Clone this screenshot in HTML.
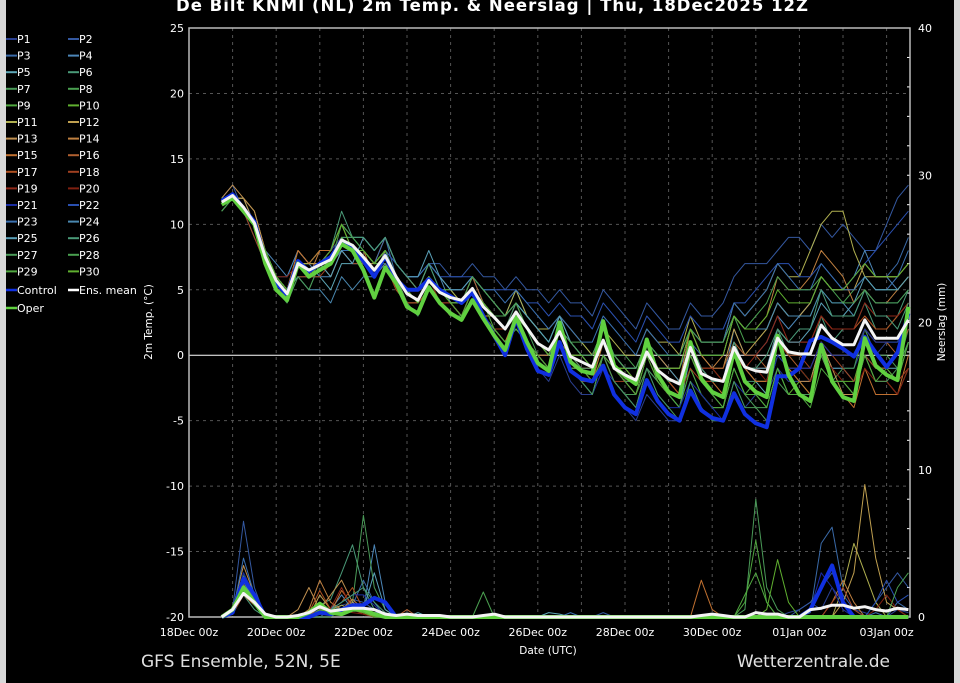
<!DOCTYPE html>
<html><head><meta charset="utf-8"><style>
html,body{margin:0;padding:0;background:#000;}
svg{display:block;font-family:"DejaVu Sans","Liberation Sans",sans-serif;}
</style></head><body>
<svg id="chart" width="960" height="683" viewBox="0 0 960 683" xmlns="http://www.w3.org/2000/svg">
<rect x="0" y="0" width="960" height="683" fill="#000"/>
<rect x="0" y="0" width="6" height="683" fill="#d8d8d8"/>
<rect x="954" y="0" width="6" height="683" fill="#d8d8d8"/>
<text x="492" y="11" fill="#fff" font-size="16.5" font-weight="bold" text-anchor="middle" textLength="632">De Bilt KNMI  (NL)  2m Temp. &amp; Neerslag | Thu, 18Dec2025 12Z</text>
<g id="grid"></g>
<g id="axes"></g>
<g id="series"></g>
<g id="legend"></g>
<text x="152" y="322" fill="#fff" font-size="10.5" text-anchor="middle" transform="rotate(-90 152 322)">2m Temp. (°C)</text>
<text x="945" y="322" fill="#fff" font-size="10.5" text-anchor="middle" transform="rotate(-90 945 322)">Neerslag (mm)</text>
<text x="548" y="654" fill="#fff" font-size="10.5" text-anchor="middle">Date (UTC)</text>
<text x="141" y="667" fill="#e0e0e0" font-size="17">GFS Ensemble, 52N, 5E</text>
<text x="890" y="667" fill="#e0e0e0" font-size="17" text-anchor="end">Wetterzentrale.de</text>
</svg>
<script>
const xTickLabels=["18Dec 00z","20Dec 00z","22Dec 00z","24Dec 00z","26Dec 00z","28Dec 00z","30Dec 00z","01Jan 00z","03Jan 00z"];
const yTicks=[25,20,15,10,5,0,-5,-10,-15,-20];
const y2Ticks=[40,30,20,10,0];
const startDay=0.75;
const stepDay=0.25;
const ensMean=[11.7,12.2,11.3,10.1,7.5,5.7,4.7,7.0,6.5,6.9,7.3,8.8,8.4,7.5,6.5,7.6,6.0,4.7,4.2,5.7,4.8,4.4,4.2,5.1,3.7,2.9,2.0,3.3,2.1,0.9,0.4,1.8,-0.1,-0.5,-0.9,1.15,-1.0,-1.5,-1.9,0.25,-1.15,-1.8,-2.2,0.6,-1.4,-1.8,-2.0,0.6,-0.9,-1.2,-1.3,1.3,0.25,0.1,0.1,2.3,1.3,0.8,0.8,2.7,1.3,1.3,1.3,2.7];
const operTemp=[11.5,12.0,11.0,10.0,7.0,5.0,4.2,7.0,6.0,6.5,7.0,8.5,8.0,6.5,4.4,6.7,5.5,3.7,3.2,5.2,4.0,3.2,2.7,4.2,2.8,1.5,0.4,2.9,1.0,-0.6,-1.2,2.5,-0.5,-1.2,-1.4,2.6,-0.8,-1.6,-2.2,1.2,-1.5,-2.8,-3.2,1.0,-1.8,-2.8,-3.2,0.3,-2.0,-2.8,-3.2,1.5,-1.5,-3.0,-3.5,0.8,-2.0,-3.2,-3.5,1.3,-0.8,-1.5,-1.9,3.7];
const controlTemp=[11.8,12.3,11.2,10.2,7.3,5.5,4.6,7.2,6.4,7.0,7.5,8.7,8.2,7.2,6.0,7.6,5.8,5.0,5.0,5.8,5.0,4.5,4.0,4.8,3.0,1.5,0.0,2.8,0.5,-1.2,-1.5,1.0,-1.2,-1.8,-2.0,-0.8,-3.0,-4.0,-4.5,-1.9,-3.5,-4.5,-5.0,-2.7,-4.2,-4.8,-5.0,-2.9,-4.5,-5.2,-5.5,-1.6,-1.6,-1.0,1.1,1.4,1.0,0.5,-0.1,1.4,0.2,-0.9,0.2,3.2];
const memberTemp=[
[12,12,11,10,8,6,5,7,6,7,7,9,8,8,7,8,6,4,3,5,4,3,3,4,3,2,1,2,1,-1,-2,0,-2,-3,-3,-1,-3,-4,-5,-3,-4,-5,-5,-2,-4,-5,-5,-2,-4,-3,-3,-1,-2,-2,-2,0,-1,-1,-1,1,0,1,1,3],
[12,13,11,10,7,5,5,7,7,8,8,10,9,9,8,9,7,6,6,7,7,6,6,7,6,6,5,6,5,5,4,5,4,4,3,5,4,3,2,4,3,2,2,4,3,3,4,6,7,7,7,8,9,9,8,10,9,10,9,8,8,10,12,13],
[12,12,12,10,7,6,6,8,7,8,8,10,9,9,8,9,6,5,5,6,5,5,5,6,4,3,3,4,3,2,1,3,1,0,0,2,0,-1,-2,1,0,-1,-1,1,0,0,0,3,2,2,2,4,3,3,4,6,5,5,6,7,6,6,7,9],
[11,12,11,10,8,7,6,8,7,6,6,8,7,7,6,8,7,6,5,7,6,4,4,6,5,4,3,5,3,2,1,3,1,0,0,2,0,-1,-1,1,0,-1,-2,1,-1,-2,-2,2,0,0,1,3,2,3,4,6,5,5,6,8,6,6,5,6],
[12,12,11,9,7,6,5,6,6,6,5,7,7,7,6,8,6,5,4,5,4,4,3,5,3,3,2,3,1,0,-1,1,-1,-2,-3,0,-2,-3,-4,-1,-2,-3,-4,0,-2,-3,-3,1,-1,-2,-3,0,-1,-1,-2,1,-1,-1,-2,0,-1,-1,-1,1],
[12,12,11,10,8,6,5,7,7,8,8,11,9,8,7,8,6,5,5,7,5,4,4,6,4,3,2,4,2,1,0,2,0,0,-1,2,0,-1,-2,1,-1,-2,-3,0,-2,-3,-3,0,-2,-2,-2,2,0,0,0,3,1,2,2,4,2,2,3,5],
[11,12,11,10,8,5,4,6,5,7,7,9,8,8,7,8,6,5,4,6,5,4,3,5,4,3,2,3,2,0,-1,1,-1,-2,-2,0,-2,-3,-3,-1,-2,-3,-4,-1,-3,-4,-4,-1,-3,-4,-5,-2,-3,-3,-3,0,-2,-1,-1,2,0,0,-1,2],
[12,12,11,10,8,6,5,7,6,7,7,9,9,9,8,9,7,6,5,6,5,4,4,5,4,3,3,4,3,2,1,3,1,1,0,2,0,0,-1,1,-1,-1,-1,2,0,0,0,3,1,1,2,4,3,3,3,5,4,4,5,6,5,5,5,6],
[12,12,11,10,7,5,4,7,6,7,8,10,9,8,7,7,5,4,4,5,4,3,3,5,3,2,1,2,1,0,-1,1,-1,-1,-2,0,-1,-2,-3,0,-2,-3,-4,-1,-3,-4,-4,-1,-3,-2,-2,1,-1,-1,-2,1,0,0,0,2,1,1,1,3],
[11,12,11,10,8,6,5,7,7,8,8,10,8,8,7,8,6,5,4,6,5,5,4,5,4,3,2,3,2,1,0,2,0,-1,-2,1,-1,-2,-3,0,-2,-3,-3,0,-2,-3,-4,0,-2,-3,-4,-1,-3,-2,-3,0,-2,-2,-2,1,-1,-1,-2,1],
[12,12,12,11,8,6,5,7,7,7,7,9,8,7,6,8,6,5,5,7,6,5,4,6,5,4,3,5,3,2,2,3,2,1,0,2,1,0,0,2,1,1,0,3,1,1,1,4,3,4,5,7,6,6,8,10,11,11,8,6,6,6,6,7],
[12,12,12,10,8,6,5,8,7,7,8,10,8,7,7,8,6,4,4,6,5,4,3,5,3,2,2,3,2,1,0,2,0,0,-1,1,-1,-1,-2,1,-1,-2,-2,1,-1,-1,-1,2,0,1,2,4,3,3,4,6,5,5,5,7,6,6,6,7],
[12,13,12,11,8,6,5,7,6,7,6,8,8,8,7,8,6,5,4,6,4,4,3,5,3,3,2,3,1,0,-1,1,-1,-1,-1,1,0,-1,-1,1,0,-1,-1,2,0,-1,-2,1,-1,-2,-2,1,-1,-2,-2,1,-1,-3,-3,0,-2,-2,-3,-1],
[12,12,11,10,8,6,5,7,6,8,8,9,8,8,7,8,6,5,4,6,4,3,3,4,3,2,1,3,1,0,0,2,0,-1,-1,1,-1,-2,-2,1,-1,-2,-2,2,0,-1,0,3,2,2,3,6,5,5,6,8,7,6,4,5,4,4,5,6],
[12,12,11,10,8,6,5,8,7,8,8,9,8,8,6,7,5,4,4,5,4,3,3,4,3,2,1,3,1,0,-1,1,0,-1,-2,1,-1,-2,-2,1,-1,-2,-3,1,-1,-2,-3,0,-1,-2,-2,1,-1,-2,-3,0,-2,-3,-4,-1,-3,-3,-3,0],
[12,12,11,10,8,6,5,7,6,7,7,8,8,8,7,9,7,6,5,6,5,4,4,6,4,3,2,3,2,1,0,2,1,0,0,1,0,-1,-1,1,-1,-2,-2,1,-1,-1,-1,1,0,0,-1,1,0,-1,-1,1,0,0,0,2,1,1,0,2],
[12,12,11,10,7,5,5,7,6,7,8,9,8,8,7,9,7,6,5,6,5,4,4,5,4,3,2,4,2,1,0,2,0,-1,-1,1,-1,-2,-2,0,-1,-2,-3,0,-2,-2,-2,1,-1,-1,-1,2,1,1,1,3,2,2,2,3,2,2,3,4],
[12,12,11,9,7,5,5,6,6,6,7,8,7,7,6,7,5,4,4,5,4,4,3,5,3,2,2,3,1,0,-1,1,-1,-2,-2,0,-2,-2,-3,0,-2,-3,-3,-1,-2,-2,-2,0,-1,-1,-1,1,0,0,-1,1,0,-1,-2,0,-1,-1,-2,-1],
[12,12,11,10,8,6,5,7,6,7,7,9,8,8,7,8,6,5,4,6,5,4,4,5,4,3,2,3,2,1,0,2,0,-1,-1,1,-1,-2,-2,0,-1,-2,-2,1,-1,-2,-2,1,-1,0,1,3,1,1,1,3,2,2,2,4,3,3,3,4],
[12,12,11,10,8,6,6,7,6,7,7,9,8,8,7,8,6,5,4,6,4,4,3,5,4,3,2,3,1,0,-1,1,-1,-1,-2,0,-1,-2,-2,0,-1,-1,-2,1,-1,-1,-2,0,-1,-1,-2,1,-1,-1,-2,0,-1,-2,-3,-1,-2,-2,-3,-1],
[12,12,11,10,8,6,5,7,6,7,8,9,8,8,7,8,6,5,4,6,5,4,4,5,4,3,2,3,2,1,0,1,-1,-2,-3,-1,-2,-3,-4,-1,-3,-4,-4,-2,-3,-4,-5,-2,-3,-3,-3,0,-1,-1,-1,1,0,0,0,2,1,1,1,3],
[12,12,11,10,8,6,5,7,6,7,7,9,8,8,7,8,7,6,6,7,6,6,6,6,5,5,5,5,4,4,3,4,3,3,2,4,3,2,1,3,2,1,1,3,2,2,2,4,4,5,6,7,7,6,6,7,6,5,6,7,8,9,10,11],
[12,12,11,10,8,6,5,7,6,7,7,8,8,8,7,9,7,6,6,7,6,5,5,6,5,5,4,5,4,3,2,3,2,1,1,3,2,1,0,2,1,0,0,2,1,1,1,4,3,4,5,7,6,5,5,7,6,5,5,6,5,5,6,8],
[12,12,11,10,8,6,5,6,5,5,4,6,5,6,6,7,6,5,5,6,5,4,4,5,4,3,2,3,2,1,0,2,1,0,0,2,0,-1,-1,1,0,0,0,2,1,1,1,3,2,2,2,4,3,3,3,5,4,4,3,5,4,4,4,5],
[12,12,11,10,8,6,5,7,6,7,6,8,7,9,8,9,7,6,6,8,6,5,5,6,5,4,3,4,3,2,1,3,1,0,-1,1,0,-1,-1,1,-1,-1,-2,1,-1,-2,-2,1,-1,-1,-1,2,1,1,2,4,3,3,4,6,5,5,5,6],
[12,12,11,10,8,6,5,7,6,7,7,9,9,9,8,9,7,6,5,7,5,4,4,5,4,3,2,4,2,1,0,2,0,-1,-1,1,-1,-2,-2,0,-1,-2,-2,1,-1,-2,-2,1,-1,-1,0,2,1,2,2,5,3,3,3,5,3,3,2,4],
[11,12,11,10,7,5,4,6,5,7,7,9,8,8,7,8,6,4,3,5,4,3,3,4,3,2,1,2,1,0,-1,1,-1,-2,-3,0,-2,-3,-4,-1,-3,-4,-5,-2,-4,-5,-5,-2,-4,-4,-4,-1,-3,-3,-3,0,-2,-2,-3,0,-2,-2,-1,1],
[12,12,11,10,8,6,5,7,6,7,7,10,9,8,7,8,6,5,4,6,5,4,4,6,5,4,3,4,2,1,0,2,1,0,0,2,0,-1,-1,1,0,0,0,2,1,1,1,3,2,3,4,6,5,5,5,6,5,4,4,5,4,4,4,5],
[12,12,11,10,8,6,5,7,6,7,7,9,8,8,7,8,6,5,4,6,5,4,3,5,4,2,1,2,1,0,-1,1,-1,-1,-2,0,-1,-2,-3,0,-2,-3,-3,0,-2,-3,-4,-1,-3,-3,-4,-1,-3,-3,-4,-1,-2,-2,-3,0,-2,-1,-2,1],
[12,12,11,10,8,6,5,7,6,7,8,10,8,8,7,8,6,5,4,6,5,4,4,5,4,3,2,3,2,1,0,2,0,0,-1,1,-1,-1,-2,1,-1,-1,-1,2,0,0,0,3,2,2,3,5,4,4,4,6,5,5,6,7,6,6,6,7]
];
const memberColors=["#2a3f8f","#3458a0","#3a6aa8","#4c86b8","#5ea8b8","#4a9a78","#4a9a58","#4aa050","#50a840","#60b030","#b0b050","#c0a050","#c09050","#c08040","#c07030","#b06030","#b05020","#a04020","#902818","#802010","#1a2ca0","#2a50b0","#3a70b0","#4a88b0","#5aa0b8","#4a9a78","#4a9a58","#4aa050","#50a840","#60b030"];
const meanPrecip=[0,0.5,1.6,1.0,0.2,0,0,0.1,0.3,0.7,0.4,0.5,0.6,0.6,0.5,0.2,0.1,0.2,0.1,0.1,0.1,0,0,0,0.1,0.2,0,0,0,0,0,0,0,0,0,0,0,0,0,0,0,0,0,0,0.1,0.2,0.1,0,0,0.3,0.2,0.2,0,0,0.5,0.6,0.8,0.8,0.6,0.7,0.5,0.4,0.6,0.5];
const operPrecip=[0,0.5,2.0,1.0,0,0,0,0,0.3,0.9,0.3,0.2,0.5,0.5,0.2,0,0,0,0,0,0,0,0,0,0,0,0,0,0,0,0,0,0,0,0,0,0,0,0,0,0,0,0,0,0,0,0,0,0,0,0,0,0,0,0,0,0,0,0,0,0,0,0,0];
const controlPrecip=[0,0.3,2.6,1.5,0,0,0,0,0,0.3,0.2,0.5,0.8,0.8,1.3,1.0,0,0,0,0,0,0,0,0,0,0,0,0,0,0,0,0,0,0,0,0,0,0,0,0,0,0,0,0,0,0,0,0,0,0,0,0,0,0,0.5,2.0,3.5,1.0,0,0,0,0,0,0];
const memberPrecip=[
[0,0.3,3,1.5,0.2,0,0,0,0.2,0.5,0.3,0.8,1,0.5,0.2,0,0,0,0,0,0,0,0,0,0,0,0,0,0,0,0,0,0,0,0,0,0,0,0,0,0,0,0,0,0,0,0,0,0,0,0,0,0.3,0.5,1,0.5,2,1,0.5,0.3,0,0,0.5,0.3],
[0,0.5,6.5,2,0,0,0,0,0,0.3,0.5,0.5,1.2,1,0.5,0,0,0,0,0,0,0,0,0,0,0,0,0,0,0,0,0,0,0,0,0.3,0,0,0,0,0,0,0,0,0,0,0,0,0,0,0,0,0,0.5,1,2,3,1.5,0.5,0,1,2,3,2],
[0,0.2,1.5,1,0,0,0,0,0,0,0.5,0.3,0.8,2.5,1,0,0,0,0,0,0,0,0,0,0,0,0,0,0,0,0,0,0,0,0,0,0,0,0,0,0,0,0,0,0,0,0,0,0,0,0,0,0,0,0.3,5.0,6.1,2,0.5,0,0.3,0,1,0.5],
[0,0.5,2,1,0,0,0,0,0,0.5,0.5,1.5,0.5,0.5,4.9,1,0,0,0,0,0,0,0,0,0,0,0,0,0,0,0,0,0,0,0,0,0,0,0,0,0,0,0,0,0,0,0,0,0,0,0,0,0,0,0,0,0,0,0,0,0,0,0,0],
[0,0.3,2.5,1.2,0,0,0,0,0.3,0.2,0.3,0.6,0.8,0.5,0.3,0,0,0,0.3,0,0,0,0,0,0,0,0,0,0,0,0.3,0.2,0,0,0,0,0,0,0,0,0,0,0,0,0,0,0,0,0,0,0,0,0,0,0,0,0,0,0,0,0,0,0,0],
[0,0.2,1.5,0.5,0,0,0,0,0,0.8,1.2,3.0,4.9,2,0.5,0,0,0,0,0,0,0,0,0,0,0,0,0,0,0,0,0,0,0,0,0,0,0,0,0,0,0,0,0,0,0,0,0,0,0,0,0,0,0,0,0,0,0,0,0,0,0,0,0],
[0,0.4,2.2,1.0,0,0,0,0,0,0,0,0.5,1,6.9,2,0.5,0,0,0,0,0,0,0,0,0,0,0,0,0,0,0,0,0,0,0,0,0,0,0,0,0,0,0,0,0,0,0,0,0.5,8,2,0.5,0,0,0,0,0,0,0,0,0,0,0,0],
[0,0.2,2,0.8,0,0,0,0,0,0.3,0.3,0.5,0.5,0.3,0.2,0,0,0,0,0,0,0,0,0,1.7,0,0,0,0,0,0,0,0,0,0,0,0,0,0,0,0,0,0,0,0,0,0,0,0,0,0,0,0,0,0,0,0,0,0,0,0,0,0,0],
[0,0.3,2.8,1.5,0,0,0,0,0,0.5,0.2,0.2,0.5,0.3,0.1,0,0,0,0,0,0,0,0,0,0,0,0,0,0,0,0,0,0,0,0,0,0,0,0,0,0,0,0,0,0,0,0,0,1,5.2,1,0,0,0,0,0,0,0,0,0,0,0,0,0],
[0,0.2,2,1,0,0,0,0,0,0.2,0.3,0.4,0.6,0.5,0.2,0,0,0,0,0,0,0,0,0,0,0,0,0,0,0,0,0,0,0,0,0,0,0,0,0,0,0,0,0,0,0,0,0,0,0,0.5,3.9,1,0,0,0,0,0,0,0,0,0,0,0],
[0,0.3,1.8,1.2,0,0,0,0,0,0.5,0.5,0.8,0.5,0.3,0.2,0,0,0,0,0,0,0,0,0,0,0,0,0,0,0,0,0,0,0,0,0,0,0,0,0,0,0,0,0,0,0,0,0,0,0,0,0,0,0,0,0,0,2,5,3,1,0,0,0],
[0,0.2,2.5,1,0,0,0,0,0,1.5,0.5,0.5,0.5,0.3,0,0,0,0,0,0,0,0,0,0,0,0,0,0,0,0,0,0,0,0,0,0,0,0,0,0,0,0,0,0,0,0,0,0,0,0,0,0,0,0,0,0,0,1,3,9,4,1,0.5,0],
[0,0.5,3.5,1.5,0,0,0,0.5,2.0,0.5,1.5,2.5,1,0.5,0.2,0,0,0,0,0,0,0,0,0,0,0,0,0,0,0,0,0,0,0,0,0,0,0,0,0,0,0,0,0,0,0,0,0,0,0,0,0,0,0,0,0,0,0,0,0,0,0,0,0],
[0,0.2,1.5,0.8,0,0,0,0,0.5,2.5,1,0.5,1.2,0.5,0.3,0,0,0,0,0,0,0,0,0,0,0,0,0,0,0,0,0,0,0,0,0,0,0,0,0,0,0,0,0,0,0,0,0,0,0,0,0,0,0,0,0,1,2.5,1,0,0,0,0,0],
[0,0.4,2.2,1,0,0,0,0,0,0.8,0.3,1.8,0.8,0.5,0,0,0,0,0,0,0,0,0,0,0,0,0,0,0,0,0,0,0,0,0,0,0,0,0,0,0,0,0,0,2.5,0.5,0,0,0,0,0,0,0,0,0,0,0,0,0,0,0,0,0,0],
[0,0.2,2,1,0,0,0,0,0,0.5,0.4,0.6,0.5,0.3,0.2,0,0,0.5,0,0,0,0,0,0,0,0,0,0,0,0,0,0,0,0,0,0,0,0,0,0,0,0,0,0,0,0,0,0,0,0,0,0,0,0,0,0,0,0,0,0,0,0,0,0],
[0,0.3,2.5,1.5,0,0,0,0,0.3,1.8,0.5,1.0,2.0,0.5,0.2,0,0,0,0,0,0,0,0,0,0,0,0,0,0,0,0,0,0,0,0,0,0,0,0,0,0,0,0,0,0,0,0,0,0,0,0,0,0,0,0,0,0,0,0,0,0,0,0,0],
[0,0.2,1.5,1.0,0,0,0,0,0,0.5,0.3,0.4,0.5,0.2,0,0,0,0,0,0,0,0,0,0,0,0,0,0,0,0,0,0,0,0,0,0,0,0,0,0,0,0,0,0,0,0,0,0,0,0,0,0,0,0,0,0,1,2,0.5,0,0,0,0,0],
[0,0.3,1.8,1.0,0,0,0,0,0,0.4,0.6,2.0,0.5,0.3,0.2,0,0,0,0,0,0,0,0,0,0,0,0,0,0,0,0,0,0,0,0,0,0,0,0,0,0,0,0,0,0,0,0,0,0,0,0,0,0,0,0,0,0,0,0,0,0,0,0,0],
[0,0.2,2,1,0,0,0,0,0,0.5,0.3,0.5,0.3,0.2,0,0,0,0,0,0,0,0,0,0,0,0,0,0,0,0,0,0,0,0,0,0,0,0,0,0,0,0,0,0,0,0,0,0,0,0,0,0,0,0,0,0,0,0,0,0,0.5,1.5,0.5,0],
[0,0.4,3.0,1.2,0,0,0,0,0,0.3,0.5,1.0,1.5,1.5,0.8,0,0,0,0,0,0,0,0,0,0,0,0,0,0,0,0,0,0,0,0,0,0,0,0,0,0,0,0,0,0,0,0,0,0,0,0,0,0,0,0.5,3.0,2.0,0.5,0,0,0,0,0,0],
[0,0.2,2.0,1.0,0,0,0,0,0,0.2,0.3,0.5,0.8,0.5,0.2,0,0,0,0,0,0,0,0,0,0,0,0,0,0,0,0,0,0,0,0,0,0,0,0,0,0,0,0,0,0,0,0,0,0,0,0,0,0,0,0,0,0,0,0,0,1,2.5,1.0,1.5],
[0,0.3,4.0,1.5,0,0,0,0,0,0.3,0.5,0.5,0.6,0.4,0.2,0,0,0,0,0,0,0,0,0,0,0,0,0,0,0,0,0,0.3,0,0,0,0,0,0,0,0,0,0,0,0,0,0,0,0,0,0,0,0,0,0,0,0,0,0,0,0,0,0,0],
[0,0.2,2.4,1.0,0,0,0,0,0,0.5,0.4,0.3,0.5,0.5,0.3,0.3,0,0,0,0,0,0,0,0,0,0,0,0,0,0,0,0,0,0,0,0,0,0,0,0,0,0,0,0,0,0,0,0,0,0,0,0,0,0,0,0,0,0,0,0,0,0,0,0],
[0,0.2,1.8,1.0,0,0,0,0,0,0.3,0.3,0.5,0.5,0.5,3.0,0.5,0,0,0,0,0,0,0,0,0,0,0,0,0,0,0,0,0,0,0,0,0,0,0,0,0,0,0,0,0,0,0,0,0,0,0,0,0,0,0,0,0,0,0,0,0,0,0,0],
[0,0.3,2.0,0.8,0,0,0,0,0,0.4,0.5,1.0,1.5,2.0,1.0,0.3,0,0,0,0,0,0,0,0,0,0,0,0,0,0,0,0,0,0,0,0,0,0,0,0,0,0,0,0,0,0,0,0,0,0,0,0,0,0,0,0,0,0,0,0,0,0,0,0],
[0,0.2,2.5,1.2,0,0,0,0,0,0.3,0.3,0.5,0.8,0.5,0.3,0,0,0,0,0,0,0,0,0,0,0,0,0,0,0,0,0,0,0,0,0,0,0,0,0,0,0,0,0,0,0,0,0,0,0,0,0,0,0,0,0,0,0,0,0,0,0,0,0],
[0,0.3,2.0,1.0,0,0,0,0,0,0.5,0.5,0.6,0.5,0.3,0.2,0,0,0,0,0,0,0,0,0,0,0,0,0,0,0,0,0,0,0,0,0,0,0,0,0,0,0,0,0,0,0,0,0,0,0,0,0,0,0,0,0,0,0,0,0,0,0,2,3],
[0,0.2,2.0,1.0,0,0,0,0,0,0.3,0.4,0.5,0.6,0.4,0.2,0,0,0,0,0,0,0,0,0,0,0,0,0,0,0,0,0,0,0,0,0,0,0,0,0,0,0,0,0,0,0,0,0,1.5,3.0,1.0,0,0,0,0,0,0,0,0,0,0,0,0,0],
[0,0.3,2.0,1.0,0,0,0,0,0,0.5,0.3,0.5,0.5,0.3,0,0,0,0,0,0,0,0,0,0,0,0,0,0,0,0,0,0,0,0,0,0,0,0,0,0,0,0,0,0,0,0,0,0,0,0,0,0,0,0,0,0,0,0,0,0,0,0,0,0]
];
</script>
<script>
const NS="http://www.w3.org/2000/svg";
const PL=189,PR=910,PT=28,PB=617;
function xDay(d){return PL+d*43.6;}
function yT(t){return PT+(25-t)*(PB-PT)/45;}
function yP(p){return PB-p*(PB-PT)/40;}
function mk(tag,attrs,parent){const e=document.createElementNS(NS,tag);for(const k in attrs)e.setAttribute(k,attrs[k]);parent.appendChild(e);return e;}
const grid=document.getElementById('grid'),axes=document.getElementById('axes'),series=document.getElementById('series'),legend=document.getElementById('legend');
// grid
for(let d=1;d<=16;d++){
  const l=mk('line',{x1:xDay(d),x2:xDay(d),y1:PT,y2:PB,stroke:'#555','stroke-width':1,'stroke-dasharray':'3,4'},grid);
  
  
}
yTicks.forEach(t=>{
  if(t===25||t===-20)return;
  const l=mk('line',{x1:PL,x2:PR,y1:yT(t),y2:yT(t),stroke:t===0?'#fff':'#555','stroke-width':1,'stroke-dasharray':t===0?'none':'3,4'},grid);
  
  
  const lb=mk('text',{x:PL-5,y:yT(t)+4,fill:'#fff','font-size':11,'text-anchor':'end'},axes);
  lb.textContent=t;
  
  
});
[25,-20].forEach(t=>{
  const lb=mk('text',{x:PL-5,y:yT(t)+4,fill:'#fff','font-size':11,'text-anchor':'end'},axes);
  lb.textContent=t;
  
  
});
y2Ticks.forEach(p=>{
  const lb=mk('text',{x:PR+8,y:yP(p)+4,fill:'#fff','font-size':11},axes);
  lb.textContent=p;
  
  
});
for(let p=2;p<40;p+=2){
  const tk=mk('line',{x1:PR-3,x2:PR,y1:yP(p),y2:yP(p),stroke:'#fff','stroke-width':1},axes);
  
  
}
xTickLabels.forEach((s,i)=>{
  const lb=mk('text',{x:xDay(i*2),y:636,fill:'#fff','font-size':11,'text-anchor':'middle'},axes);
  lb.textContent=s;
  
  
});
const frame=mk('rect',{x:PL,y:PT,width:PR-PL,height:PB-PT,fill:'none',stroke:'#bbb','stroke-width':1.5},axes);


function pts(arr,yf){return arr.map((v,i)=>xDay(startDay+i*stepDay).toFixed(1)+','+yf(v).toFixed(1)).join(' ');}
function line(arr,yf,color,w,name){
  const p=mk('polyline',{points:pts(arr,yf),fill:'none',stroke:color,'stroke-width':w,'stroke-linejoin':'round'},series);
  
  
}
memberTemp.forEach((a,i)=>line(a,yT,memberColors[i],1,'member-temp-line'));
memberPrecip.forEach((a,i)=>line(a,yP,memberColors[i],1,'member-precip-line'));
line(controlTemp,yT,'#1030e0',4,'control-temp-line');
line(controlPrecip,yP,'#1030e0',4,'control-precip-line');
line(operTemp,yT,'#60d040',4,'oper-temp-line');
line(operPrecip,yP,'#60d040',4,'oper-precip-line');
line(ensMean,yT,'#f4f4f4',3,'ens-mean-temp-line');
line(meanPrecip,yP,'#f4f4f4',3,'ens-mean-precip-line');
// legend
const legNames=[];for(let i=1;i<=30;i++)legNames.push('P'+i);
legNames.forEach((n,i)=>{
  const col=i%2,row=Math.floor(i/2);
  const y=38+row*16.6;
  const x0=col?68:6;
  const ln=mk('line',{x1:x0,x2:x0+11,y1:y+1,y2:y+1,stroke:memberColors[i],'stroke-width':2},legend);
  
  
  const t=mk('text',{x:x0+11,y:y+5,fill:'#fff','font-size':11},legend);
  t.textContent=n;
  
  
});
[['Control','#1030e0',6,289],['Ens. mean','#fff',68,289],['Oper','#60d040',6,307]].forEach(e=>{
  const ln=mk('line',{x1:e[2],x2:e[2]+11,y1:e[3]+1,y2:e[3]+1,stroke:e[1],'stroke-width':2.5},legend);
  
  
  const t=mk('text',{x:e[2]+11,y:e[3]+5,fill:'#fff','font-size':11},legend);
  t.textContent=e[0];
  
  
});
</script>
</body></html>
